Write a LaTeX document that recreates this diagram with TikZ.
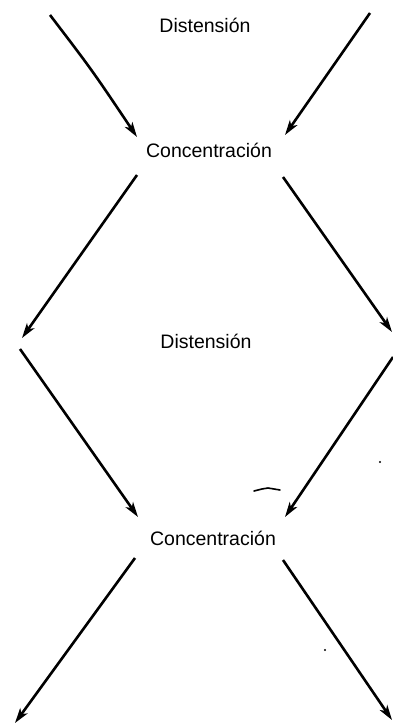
\documentclass[tikz,border=0pt]{standalone}
\usepackage{fontspec}
\setmainfont{Liberation Sans}
\usetikzlibrary{arrows.meta}
\begin{document}
\begin{tikzpicture}[x=1pt,y=-1pt,
  lbl/.style={inner sep=0pt,font=\fontsize{19.5}{22}\selectfont},
  flow/.style={line width=2.6pt,-{Stealth[length=15pt,width=9pt,inset=4pt]}},
  speck/.style={line width=1.6pt,line cap=round}]
\useasboundingbox (0,0) rectangle (393,726);
% labels
\node[lbl] (d1) at (205,25) {Distensión};
\node[lbl] (c1) at (209,150) {Concentración};
\node[lbl] (d2) at (206,341) {Distensión};
\node[lbl] (c2) at (213,538) {Concentración};
% connector end points
\coordinate (a1s) at (50,15);   \coordinate (a1m) at (92,70);  \coordinate (a1e) at (137,137);
\coordinate (b1s) at (370,13);  \coordinate (b1e) at (285,135);
\coordinate (a2s) at (137,175); \coordinate (a2e) at (22,338);
\coordinate (b2s) at (283,177); \coordinate (b2e) at (392,332);
\coordinate (a3s) at (20,349);  \coordinate (a3e) at (138,517);
\coordinate (b3s) at (393,357); \coordinate (b3e) at (285,517);
\coordinate (a4s) at (135,558); \coordinate (a4e) at (15,723);
\coordinate (b4s) at (283,560); \coordinate (b4e) at (392,720);
% connectors
\draw[flow] (a1s) .. controls (a1m) .. (a1e);
\draw[flow] (b1s) -- (b1e);
\draw[flow] (a2s) -- (a2e);
\draw[flow] (b2s) -- (b2e);
\draw[flow] (a3s) -- (a3e);
\draw[flow] (b3s) -- (b3e);
\draw[flow] (a4s) -- (a4e);
\draw[flow] (b4s) -- (b4e);
% scan specks
\draw[speck] (254,491) -- (262,489) -- (268,488) -- (280,490);
\fill (380,462) circle (1.1pt);
\fill (325,650) circle (1.1pt);
\end{tikzpicture}
\end{document}
